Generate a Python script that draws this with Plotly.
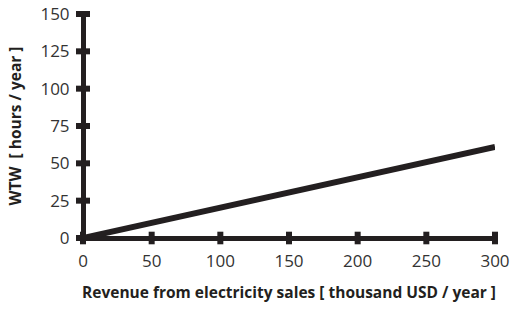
import plotly.graph_objects as go

revenue = [0, 300]
wtw = [0, 61]
x_ticks = [0, 50, 100, 150, 200, 250, 300]
y_ticks = [0, 25, 50, 75, 100, 125, 150]

dark = "#231f20"
fig = go.Figure()
fig.add_trace(go.Scatter(x=revenue, y=wtw, mode="lines",
                         line=dict(color=dark, width=6), showlegend=False, cliponaxis=False))
# tick marks crossing the axes
fig.add_trace(go.Scatter(x=x_ticks, y=[0]*len(x_ticks), mode="markers",
                         marker=dict(symbol="line-ns", size=9, line=dict(color=dark, width=6)),
                         showlegend=False, cliponaxis=False, hoverinfo="skip"))
fig.add_trace(go.Scatter(x=[0]*len(y_ticks), y=y_ticks, mode="markers",
                         marker=dict(symbol="line-ew", size=10, line=dict(color=dark, width=6)),
                         showlegend=False, cliponaxis=False, hoverinfo="skip"))

font_family = "Open Sans, sans-serif"
fig.update_layout(
    width=510, height=309,
    margin=dict(l=83, r=15, t=14, b=71),
    paper_bgcolor="white", plot_bgcolor="white",
    font=dict(family=font_family, color="#333"),
    xaxis=dict(range=[0, 300], tickvals=x_ticks, ticktext=[str(v) for v in x_ticks],
               showgrid=False, zeroline=True, zerolinecolor=dark, zerolinewidth=5,
               showline=False, automargin=False,
               ticks="outside", ticklen=8, tickcolor="rgba(0,0,0,0)",
               tickfont=dict(size=17, color="#333"),
               title=dict(text="<b>Revenue from electricity sales [ thousand USD / year ]</b>",
                          font=dict(size=15.5, color=dark))),
    yaxis=dict(range=[0, 150], tickvals=y_ticks, ticktext=[str(v) for v in y_ticks],
               showgrid=False, zeroline=True, zerolinecolor=dark, zerolinewidth=5,
               showline=False, automargin=False,
               ticks="outside", ticklen=9, tickcolor="rgba(0,0,0,0)",
               tickfont=dict(size=17, color="#333"),
               title=dict(text="<b>WTW  [ hours / year ]</b>",
                          font=dict(size=15.5, color=dark))),
)
fig.write_html("out.html", config={"displayModeBar": False},
               post_script="document.body.style.margin='0';document.body.style.overflow='hidden';")
